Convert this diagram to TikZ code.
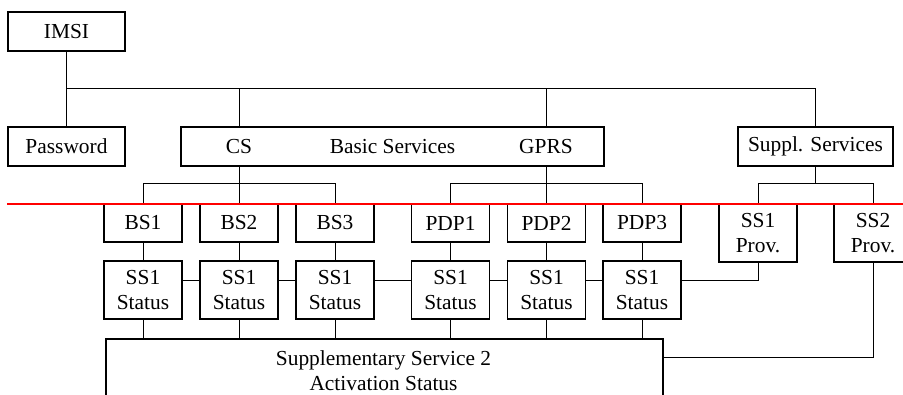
\documentclass[tikz,border=0pt]{standalone}
\usepackage{fontspec}
\setmainfont{Liberation Serif}
\begin{document}
\begin{tikzpicture}[x=1pt,y=-1pt,
  box/.style={draw, line width=1.6pt, inner sep=0pt, minimum height=38pt, minimum width=78pt},
  lbl/.style={inner sep=0pt},
  link/.style={line width=1pt},
  font=\fontsize{21.4}{24.5}\selectfont]
\clip (0,0) rectangle (903,394);
\fill[white] (0,0) rectangle (903,394);
% top level
\node[box, minimum width=117pt, minimum height=39pt] (imsi) at (66.5,31.5) {IMSI};
\node[box, minimum width=117pt, minimum height=39pt] (pw) at (66.5,146.5) {Password};
\node[box, minimum width=423pt, minimum height=39pt] (basic) at (392.5,146.5) {};
\node[lbl] (cs) at (239,146.5) {CS};
\node[lbl] (bstext) at (392.5,146.5) {Basic Services};
\node[lbl] (gprs) at (546,146.5) {GPRS};
\node[box, minimum width=155pt, minimum height=39pt] (suppl) at (815.5,146.5) {Suppl. Services};
% second level
\node[box] (bs1) at (143,223) {BS1};
\node[box] (bs2) at (239,223) {BS2};
\node[box] (bs3) at (335,223) {BS3};
\node[box] (pdp1) at (450.5,223) {PDP1};
\node[box] (pdp2) at (546.5,223) {PDP2};
\node[box] (pdp3) at (642,223) {PDP3};
\node[box, minimum height=58pt, align=center] (prov1) at (758,233) {SS1\\Prov.};
\node[box, minimum height=58pt, align=center] (prov2) at (873,233) {SS2\\Prov.};
% status row
\foreach \n/\x in {st1/143, st2/239, st3/335, st4/450.5, st5/546.5, st6/642}
  \node[box, minimum height=58pt, align=center] (\n) at (\x,290) {SS1\\Status};
% activation box
\node[box, anchor=north west, minimum width=557pt, minimum height=100pt] (act) at (105,338) {};
\node[lbl, align=center] (acttext) at (383.5,370.5) {Supplementary Service 2\\Activation Status};
% connectors
\coordinate (busL) at (66,88);
\coordinate (busR) at (815.5,88);
\draw[link] (imsi) -- (pw);
\draw[link] (busL) -- (busR);
\draw[link] (cs |- busL) -- (cs |- basic.north);
\draw[link] (gprs |- busL) -- (gprs |- basic.north);
\draw[link] (busR) -- (suppl.north);
\draw[link] (basic.south -| bs2) -- (bs2.north);
\draw[link] (bs1.north) -- ++(0,-20) -| (bs3.north);
\draw[link] (basic.south -| pdp2) -- (pdp2.north);
\draw[link] (pdp1.north) -- ++(0,-20) -| (pdp3.north);
\draw[link] (suppl.south) -- (suppl.south |- 0,184);
\draw[link] (prov1.north) -- ++(0,-20) -| (prov2.north);
\foreach \a/\b in {bs1/st1, bs2/st2, bs3/st3, pdp1/st4, pdp2/st5, pdp3/st6}
  \draw[link] (\a.south) -- (\b.north);
\foreach \a/\b in {st1/st2, st2/st3, st3/st4, st4/st5, st5/st6}
  \draw[link] ([yshift=10pt]\a.east) -- ([yshift=10pt]\b.west);
\draw[link] ([yshift=10pt]st6.east) -| (prov1.south);
\foreach \n in {st1,st2,st3,st4,st5,st6}
  \draw[link] (\n.south) -- (\n |- act.north);
\coordinate (actin) at (662,357);
\draw[link] (prov2.south) |- (actin);
% red line
\coordinate (redL) at (7,204);
\coordinate (redR) at (903,204);
\draw[red, line width=1.3pt] (redL) -- (redR);
\end{tikzpicture}
\end{document}
